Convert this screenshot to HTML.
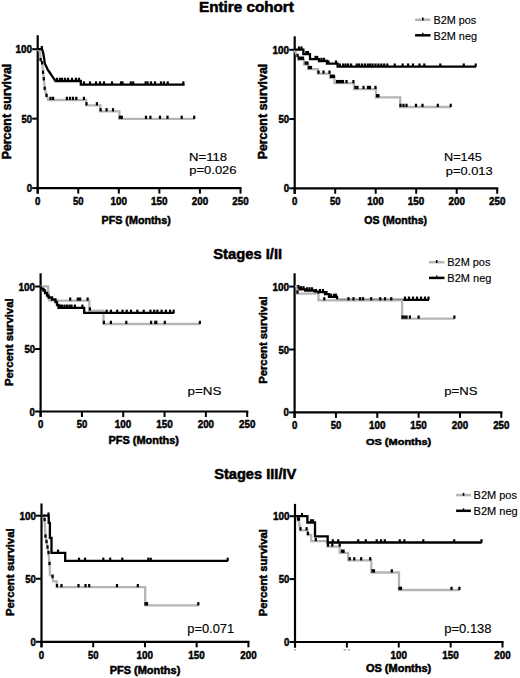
<!DOCTYPE html>
<html><head><meta charset="utf-8"><style>
html,body{margin:0;padding:0;background:#fff;}
svg{display:block;}
text{font-family:"Liberation Sans",sans-serif;fill:#000;}
</style></head><body>
<svg width="520" height="678" viewBox="0 0 520 678">
<rect width="520" height="678" fill="#fff"/>
<text x="199.08" y="11.8" font-size="13.94" font-weight="bold" textLength="94.7" lengthAdjust="spacingAndGlyphs" stroke="#000" stroke-width="0.5">Entire cohort</text>
<text x="213.27" y="258.6" font-size="14.77" font-weight="bold" textLength="68.91" lengthAdjust="spacingAndGlyphs" stroke="#000" stroke-width="0.5">Stages I/II</text>
<text x="214.18" y="478.8" font-size="13.8" font-weight="bold" textLength="82.12" lengthAdjust="spacingAndGlyphs" stroke="#000" stroke-width="0.5">Stages III/IV</text>
<line x1="37.7" y1="35.2" x2="37.7" y2="193.6" stroke="#000" stroke-width="2.2"/>
<line x1="36.6" y1="188.1" x2="241.6" y2="188.1" stroke="#000" stroke-width="2.2"/>
<line x1="32.2" y1="188.1" x2="37.7" y2="188.1" stroke="#000" stroke-width="2.0"/>
<text x="26.72" y="192.1" font-size="11.17" font-weight="bold" textLength="5.38" lengthAdjust="spacingAndGlyphs" stroke="#000" stroke-width="0.5">0</text>
<line x1="32.2" y1="118.65" x2="37.7" y2="118.65" stroke="#000" stroke-width="2.0"/>
<text x="21.51" y="122.65" font-size="11.17" font-weight="bold" textLength="10.58" lengthAdjust="spacingAndGlyphs" stroke="#000" stroke-width="0.5">50</text>
<line x1="32.2" y1="49.20000000000002" x2="37.7" y2="49.20000000000002" stroke="#000" stroke-width="2.0"/>
<text x="15.58" y="53.2" font-size="11.17" font-weight="bold" textLength="16.53" lengthAdjust="spacingAndGlyphs" stroke="#000" stroke-width="0.5">100</text>
<line x1="37.7" y1="188.1" x2="37.7" y2="193.6" stroke="#000" stroke-width="2.0"/>
<text x="35.02" y="204.8" font-size="11.17" font-weight="bold" textLength="5.38" lengthAdjust="spacingAndGlyphs" stroke="#000" stroke-width="0.5">0</text>
<line x1="78.26" y1="188.1" x2="78.26" y2="193.6" stroke="#000" stroke-width="2.0"/>
<text x="73.02" y="204.8" font-size="11.17" font-weight="bold" textLength="10.58" lengthAdjust="spacingAndGlyphs" stroke="#000" stroke-width="0.5">50</text>
<line x1="118.82000000000001" y1="188.1" x2="118.82000000000001" y2="193.6" stroke="#000" stroke-width="2.0"/>
<text x="110.45" y="204.8" font-size="11.17" font-weight="bold" textLength="16.53" lengthAdjust="spacingAndGlyphs" stroke="#000" stroke-width="0.5">100</text>
<line x1="159.38000000000002" y1="188.1" x2="159.38000000000002" y2="193.6" stroke="#000" stroke-width="2.0"/>
<text x="151.01" y="204.8" font-size="11.17" font-weight="bold" textLength="16.53" lengthAdjust="spacingAndGlyphs" stroke="#000" stroke-width="0.5">150</text>
<line x1="199.94" y1="188.1" x2="199.94" y2="193.6" stroke="#000" stroke-width="2.0"/>
<text x="191.8" y="204.8" font-size="11.17" font-weight="bold" textLength="16.34" lengthAdjust="spacingAndGlyphs" stroke="#000" stroke-width="0.5">200</text>
<line x1="240.5" y1="188.1" x2="240.5" y2="193.6" stroke="#000" stroke-width="2.0"/>
<text x="232.36" y="204.8" font-size="11.17" font-weight="bold" textLength="16.34" lengthAdjust="spacingAndGlyphs" stroke="#000" stroke-width="0.5">250</text>
<text x="10.6" y="159.33" font-size="12.42" font-weight="bold" textLength="95.6" lengthAdjust="spacingAndGlyphs" transform="rotate(-90 10.6 159.33)" stroke="#000" stroke-width="0.5">Percent survival</text>
<text x="101.48" y="223.7" font-size="10.76" font-weight="bold" textLength="69.25" lengthAdjust="spacingAndGlyphs" stroke="#000" stroke-width="0.5">PFS (Months)</text>
<line x1="294.7" y1="36.3" x2="294.7" y2="193.8" stroke="#000" stroke-width="2.2"/>
<line x1="293.59999999999997" y1="188.3" x2="498.3" y2="188.3" stroke="#000" stroke-width="2.2"/>
<line x1="289.2" y1="188.3" x2="294.7" y2="188.3" stroke="#000" stroke-width="2.0"/>
<text x="283.72" y="192.3" font-size="11.17" font-weight="bold" textLength="5.38" lengthAdjust="spacingAndGlyphs" stroke="#000" stroke-width="0.5">0</text>
<line x1="289.2" y1="119.05000000000001" x2="294.7" y2="119.05000000000001" stroke="#000" stroke-width="2.0"/>
<text x="278.51" y="123.05" font-size="11.17" font-weight="bold" textLength="10.58" lengthAdjust="spacingAndGlyphs" stroke="#000" stroke-width="0.5">50</text>
<line x1="289.2" y1="49.80000000000001" x2="294.7" y2="49.80000000000001" stroke="#000" stroke-width="2.0"/>
<text x="272.58" y="53.8" font-size="11.17" font-weight="bold" textLength="16.53" lengthAdjust="spacingAndGlyphs" stroke="#000" stroke-width="0.5">100</text>
<line x1="294.7" y1="188.3" x2="294.7" y2="193.8" stroke="#000" stroke-width="2.0"/>
<text x="292.02" y="205.0" font-size="11.17" font-weight="bold" textLength="5.38" lengthAdjust="spacingAndGlyphs" stroke="#000" stroke-width="0.5">0</text>
<line x1="335.2" y1="188.3" x2="335.2" y2="193.8" stroke="#000" stroke-width="2.0"/>
<text x="329.96" y="205.0" font-size="11.17" font-weight="bold" textLength="10.58" lengthAdjust="spacingAndGlyphs" stroke="#000" stroke-width="0.5">50</text>
<line x1="375.7" y1="188.3" x2="375.7" y2="193.8" stroke="#000" stroke-width="2.0"/>
<text x="367.33" y="205.0" font-size="11.17" font-weight="bold" textLength="16.53" lengthAdjust="spacingAndGlyphs" stroke="#000" stroke-width="0.5">100</text>
<line x1="416.2" y1="188.3" x2="416.2" y2="193.8" stroke="#000" stroke-width="2.0"/>
<text x="407.83" y="205.0" font-size="11.17" font-weight="bold" textLength="16.53" lengthAdjust="spacingAndGlyphs" stroke="#000" stroke-width="0.5">150</text>
<line x1="456.7" y1="188.3" x2="456.7" y2="193.8" stroke="#000" stroke-width="2.0"/>
<text x="448.56" y="205.0" font-size="11.17" font-weight="bold" textLength="16.34" lengthAdjust="spacingAndGlyphs" stroke="#000" stroke-width="0.5">200</text>
<line x1="497.2" y1="188.3" x2="497.2" y2="193.8" stroke="#000" stroke-width="2.0"/>
<text x="489.06" y="205.0" font-size="11.17" font-weight="bold" textLength="16.34" lengthAdjust="spacingAndGlyphs" stroke="#000" stroke-width="0.5">250</text>
<text x="266.7" y="159.33" font-size="12.56" font-weight="bold" textLength="95.6" lengthAdjust="spacingAndGlyphs" transform="rotate(-90 266.7 159.33)" stroke="#000" stroke-width="0.5">Percent survival</text>
<text x="364.37" y="224.2" font-size="11.45" font-weight="bold" textLength="62.76" lengthAdjust="spacingAndGlyphs" stroke="#000" stroke-width="0.5">OS (Months)</text>
<line x1="40.6" y1="273.3" x2="40.6" y2="417.0" stroke="#000" stroke-width="2.2"/>
<line x1="39.5" y1="411.5" x2="248.29999999999998" y2="411.5" stroke="#000" stroke-width="2.2"/>
<line x1="35.1" y1="411.5" x2="40.6" y2="411.5" stroke="#000" stroke-width="2.0"/>
<text x="29.62" y="415.5" font-size="11.17" font-weight="bold" textLength="5.38" lengthAdjust="spacingAndGlyphs" stroke="#000" stroke-width="0.5">0</text>
<line x1="35.1" y1="349.0" x2="40.6" y2="349.0" stroke="#000" stroke-width="2.0"/>
<text x="24.41" y="353.0" font-size="11.17" font-weight="bold" textLength="10.58" lengthAdjust="spacingAndGlyphs" stroke="#000" stroke-width="0.5">50</text>
<line x1="35.1" y1="286.5" x2="40.6" y2="286.5" stroke="#000" stroke-width="2.0"/>
<text x="18.48" y="290.5" font-size="11.17" font-weight="bold" textLength="16.53" lengthAdjust="spacingAndGlyphs" stroke="#000" stroke-width="0.5">100</text>
<line x1="40.6" y1="411.5" x2="40.6" y2="417.0" stroke="#000" stroke-width="2.0"/>
<text x="37.92" y="428.2" font-size="11.17" font-weight="bold" textLength="5.38" lengthAdjust="spacingAndGlyphs" stroke="#000" stroke-width="0.5">0</text>
<line x1="81.92" y1="411.5" x2="81.92" y2="417.0" stroke="#000" stroke-width="2.0"/>
<text x="76.68" y="428.2" font-size="11.17" font-weight="bold" textLength="10.58" lengthAdjust="spacingAndGlyphs" stroke="#000" stroke-width="0.5">50</text>
<line x1="123.24000000000001" y1="411.5" x2="123.24000000000001" y2="417.0" stroke="#000" stroke-width="2.0"/>
<text x="114.87" y="428.2" font-size="11.17" font-weight="bold" textLength="16.53" lengthAdjust="spacingAndGlyphs" stroke="#000" stroke-width="0.5">100</text>
<line x1="164.56" y1="411.5" x2="164.56" y2="417.0" stroke="#000" stroke-width="2.0"/>
<text x="156.19" y="428.2" font-size="11.17" font-weight="bold" textLength="16.53" lengthAdjust="spacingAndGlyphs" stroke="#000" stroke-width="0.5">150</text>
<line x1="205.88" y1="411.5" x2="205.88" y2="417.0" stroke="#000" stroke-width="2.0"/>
<text x="197.74" y="428.2" font-size="11.17" font-weight="bold" textLength="16.34" lengthAdjust="spacingAndGlyphs" stroke="#000" stroke-width="0.5">200</text>
<line x1="247.2" y1="411.5" x2="247.2" y2="417.0" stroke="#000" stroke-width="2.0"/>
<text x="239.06" y="428.2" font-size="11.17" font-weight="bold" textLength="16.34" lengthAdjust="spacingAndGlyphs" stroke="#000" stroke-width="0.5">250</text>
<text x="12.7" y="386.06" font-size="11.59" font-weight="bold" textLength="87.71" lengthAdjust="spacingAndGlyphs" transform="rotate(-90 12.7 386.06)" stroke="#000" stroke-width="0.5">Percent survival</text>
<text x="108.47" y="443.7" font-size="10.49" font-weight="bold" textLength="70.48" lengthAdjust="spacingAndGlyphs" stroke="#000" stroke-width="0.5">PFS (Months)</text>
<line x1="294.6" y1="273.3" x2="294.6" y2="417.9" stroke="#000" stroke-width="2.2"/>
<line x1="293.5" y1="412.4" x2="502.40000000000003" y2="412.4" stroke="#000" stroke-width="2.2"/>
<line x1="289.1" y1="412.4" x2="294.6" y2="412.4" stroke="#000" stroke-width="2.0"/>
<text x="283.62" y="416.4" font-size="11.17" font-weight="bold" textLength="5.38" lengthAdjust="spacingAndGlyphs" stroke="#000" stroke-width="0.5">0</text>
<line x1="289.1" y1="349.5" x2="294.6" y2="349.5" stroke="#000" stroke-width="2.0"/>
<text x="278.41" y="353.5" font-size="11.17" font-weight="bold" textLength="10.58" lengthAdjust="spacingAndGlyphs" stroke="#000" stroke-width="0.5">50</text>
<line x1="289.1" y1="286.6" x2="294.6" y2="286.6" stroke="#000" stroke-width="2.0"/>
<text x="272.48" y="290.6" font-size="11.17" font-weight="bold" textLength="16.53" lengthAdjust="spacingAndGlyphs" stroke="#000" stroke-width="0.5">100</text>
<line x1="294.6" y1="412.4" x2="294.6" y2="417.9" stroke="#000" stroke-width="2.0"/>
<text x="291.92" y="429.1" font-size="11.17" font-weight="bold" textLength="5.38" lengthAdjust="spacingAndGlyphs" stroke="#000" stroke-width="0.5">0</text>
<line x1="335.94" y1="412.4" x2="335.94" y2="417.9" stroke="#000" stroke-width="2.0"/>
<text x="330.7" y="429.1" font-size="11.17" font-weight="bold" textLength="10.58" lengthAdjust="spacingAndGlyphs" stroke="#000" stroke-width="0.5">50</text>
<line x1="377.28000000000003" y1="412.4" x2="377.28000000000003" y2="417.9" stroke="#000" stroke-width="2.0"/>
<text x="368.91" y="429.1" font-size="11.17" font-weight="bold" textLength="16.53" lengthAdjust="spacingAndGlyphs" stroke="#000" stroke-width="0.5">100</text>
<line x1="418.62" y1="412.4" x2="418.62" y2="417.9" stroke="#000" stroke-width="2.0"/>
<text x="410.25" y="429.1" font-size="11.17" font-weight="bold" textLength="16.53" lengthAdjust="spacingAndGlyphs" stroke="#000" stroke-width="0.5">150</text>
<line x1="459.96000000000004" y1="412.4" x2="459.96000000000004" y2="417.9" stroke="#000" stroke-width="2.0"/>
<text x="451.82" y="429.1" font-size="11.17" font-weight="bold" textLength="16.34" lengthAdjust="spacingAndGlyphs" stroke="#000" stroke-width="0.5">200</text>
<line x1="501.3" y1="412.4" x2="501.3" y2="417.9" stroke="#000" stroke-width="2.0"/>
<text x="493.16" y="429.1" font-size="11.17" font-weight="bold" textLength="16.34" lengthAdjust="spacingAndGlyphs" stroke="#000" stroke-width="0.5">250</text>
<text x="267.2" y="383.86" font-size="11.32" font-weight="bold" textLength="87.46" lengthAdjust="spacingAndGlyphs" transform="rotate(-90 267.2 383.86)" stroke="#000" stroke-width="0.5">Percent survival</text>
<text x="365.95" y="445.1" font-size="9.66" font-weight="bold" textLength="65.3" lengthAdjust="spacingAndGlyphs" stroke="#000" stroke-width="0.5">OS (Months)</text>
<line x1="41.5" y1="503.5" x2="41.5" y2="647.3" stroke="#000" stroke-width="2.2"/>
<line x1="40.4" y1="641.8" x2="249.5" y2="641.8" stroke="#000" stroke-width="2.2"/>
<line x1="36.0" y1="641.8" x2="41.5" y2="641.8" stroke="#000" stroke-width="2.0"/>
<text x="30.52" y="645.8" font-size="11.17" font-weight="bold" textLength="5.38" lengthAdjust="spacingAndGlyphs" stroke="#000" stroke-width="0.5">0</text>
<line x1="36.0" y1="578.75" x2="41.5" y2="578.75" stroke="#000" stroke-width="2.0"/>
<text x="25.31" y="582.75" font-size="11.17" font-weight="bold" textLength="10.58" lengthAdjust="spacingAndGlyphs" stroke="#000" stroke-width="0.5">50</text>
<line x1="36.0" y1="515.7" x2="41.5" y2="515.7" stroke="#000" stroke-width="2.0"/>
<text x="19.38" y="519.7" font-size="11.17" font-weight="bold" textLength="16.53" lengthAdjust="spacingAndGlyphs" stroke="#000" stroke-width="0.5">100</text>
<line x1="41.5" y1="641.8" x2="41.5" y2="647.3" stroke="#000" stroke-width="2.0"/>
<text x="38.82" y="658.5" font-size="11.17" font-weight="bold" textLength="5.38" lengthAdjust="spacingAndGlyphs" stroke="#000" stroke-width="0.5">0</text>
<line x1="93.225" y1="641.8" x2="93.225" y2="647.3" stroke="#000" stroke-width="2.0"/>
<text x="87.98" y="658.5" font-size="11.17" font-weight="bold" textLength="10.58" lengthAdjust="spacingAndGlyphs" stroke="#000" stroke-width="0.5">50</text>
<line x1="144.95" y1="641.8" x2="144.95" y2="647.3" stroke="#000" stroke-width="2.0"/>
<text x="136.58" y="658.5" font-size="11.17" font-weight="bold" textLength="16.53" lengthAdjust="spacingAndGlyphs" stroke="#000" stroke-width="0.5">100</text>
<line x1="196.675" y1="641.8" x2="196.675" y2="647.3" stroke="#000" stroke-width="2.0"/>
<text x="188.3" y="658.5" font-size="11.17" font-weight="bold" textLength="16.53" lengthAdjust="spacingAndGlyphs" stroke="#000" stroke-width="0.5">150</text>
<line x1="248.4" y1="641.8" x2="248.4" y2="647.3" stroke="#000" stroke-width="2.0"/>
<text x="240.26" y="658.5" font-size="11.17" font-weight="bold" textLength="16.34" lengthAdjust="spacingAndGlyphs" stroke="#000" stroke-width="0.5">200</text>
<text x="13.6" y="616.06" font-size="11.32" font-weight="bold" textLength="87.71" lengthAdjust="spacingAndGlyphs" transform="rotate(-90 13.6 616.06)" stroke="#000" stroke-width="0.5">Percent survival</text>
<text x="109.67" y="673.8" font-size="10.07" font-weight="bold" textLength="70.68" lengthAdjust="spacingAndGlyphs" stroke="#000" stroke-width="0.5">PFS (Months)</text>
<line x1="295" y1="503.9" x2="295" y2="647.5" stroke="#000" stroke-width="2.2"/>
<line x1="293.9" y1="642.0" x2="503.6" y2="642.0" stroke="#000" stroke-width="2.2"/>
<line x1="289.5" y1="642.0" x2="295" y2="642.0" stroke="#000" stroke-width="2.0"/>
<text x="284.02" y="646.0" font-size="11.17" font-weight="bold" textLength="5.38" lengthAdjust="spacingAndGlyphs" stroke="#000" stroke-width="0.5">0</text>
<line x1="289.5" y1="579.1" x2="295" y2="579.1" stroke="#000" stroke-width="2.0"/>
<text x="278.81" y="583.1" font-size="11.17" font-weight="bold" textLength="10.58" lengthAdjust="spacingAndGlyphs" stroke="#000" stroke-width="0.5">50</text>
<line x1="289.5" y1="516.2" x2="295" y2="516.2" stroke="#000" stroke-width="2.0"/>
<text x="272.88" y="520.2" font-size="11.17" font-weight="bold" textLength="16.53" lengthAdjust="spacingAndGlyphs" stroke="#000" stroke-width="0.5">100</text>
<line x1="295.0" y1="642.0" x2="295.0" y2="647.5" stroke="#000" stroke-width="2.0"/>
<line x1="346.875" y1="642.0" x2="346.875" y2="647.5" stroke="#000" stroke-width="2.0"/>
<line x1="398.75" y1="642.0" x2="398.75" y2="647.5" stroke="#000" stroke-width="2.0"/>
<text x="390.38" y="658.7" font-size="11.17" font-weight="bold" textLength="16.53" lengthAdjust="spacingAndGlyphs" stroke="#000" stroke-width="0.5">100</text>
<line x1="450.625" y1="642.0" x2="450.625" y2="647.5" stroke="#000" stroke-width="2.0"/>
<text x="442.25" y="658.7" font-size="11.17" font-weight="bold" textLength="16.53" lengthAdjust="spacingAndGlyphs" stroke="#000" stroke-width="0.5">150</text>
<line x1="502.5" y1="642.0" x2="502.5" y2="647.5" stroke="#000" stroke-width="2.0"/>
<text x="494.36" y="658.7" font-size="11.17" font-weight="bold" textLength="16.34" lengthAdjust="spacingAndGlyphs" stroke="#000" stroke-width="0.5">200</text>
<text x="267.0" y="616.25" font-size="10.76" font-weight="bold" textLength="87.05" lengthAdjust="spacingAndGlyphs" transform="rotate(-90 267.0 616.25)" stroke="#000" stroke-width="0.5">Percent survival</text>
<text x="365.95" y="672.1" font-size="10.07" font-weight="bold" textLength="65.3" lengthAdjust="spacingAndGlyphs" stroke="#000" stroke-width="0.5">OS (Months)</text>
<text x="189.05" y="160.8" font-size="11.03" font-weight="normal" textLength="38.0" lengthAdjust="spacingAndGlyphs" stroke="#000" stroke-width="0.15">N=118</text>
<text x="189.26" y="174.3" font-size="10.03" font-weight="normal" textLength="47.31" lengthAdjust="spacingAndGlyphs" stroke="#000" stroke-width="0.15">p=0.026</text>
<text x="444.06" y="160.8" font-size="11.19" font-weight="normal" textLength="37.67" lengthAdjust="spacingAndGlyphs" stroke="#000" stroke-width="0.15">N=145</text>
<text x="445.77" y="175.2" font-size="10.45" font-weight="normal" textLength="46.9" lengthAdjust="spacingAndGlyphs" stroke="#000" stroke-width="0.15">p=0.013</text>
<text x="187.43" y="395.0" font-size="11.74" font-weight="normal" textLength="33.98" lengthAdjust="spacingAndGlyphs" stroke="#000" stroke-width="0.15">p=NS</text>
<text x="444.25" y="394.6" font-size="11.74" font-weight="normal" textLength="33.25" lengthAdjust="spacingAndGlyphs" stroke="#000" stroke-width="0.15">p=NS</text>
<text x="187.27" y="632.8" font-size="12.6" font-weight="normal" textLength="46.86" lengthAdjust="spacingAndGlyphs" stroke="#000" stroke-width="0.15">p=0.071</text>
<text x="444.26" y="632.8" font-size="12.6" font-weight="normal" textLength="47.3" lengthAdjust="spacingAndGlyphs" stroke="#000" stroke-width="0.15">p=0.138</text>
<line x1="415.1" y1="19.7" x2="430.5" y2="19.7" stroke="#b5b5b5" stroke-width="2.5"/>
<rect x="422.00" y="17.5" width="1.6" height="3" fill="#000"/>
<line x1="415.1" y1="35.3" x2="430.5" y2="35.3" stroke="#000" stroke-width="2.5"/>
<line x1="422.8" y1="32.8" x2="422.8" y2="35.3" stroke="#000" stroke-width="1.4"/>
<text x="433.41" y="23.7" font-size="11.17" font-weight="normal" textLength="42.88" lengthAdjust="spacingAndGlyphs" stroke="#000" stroke-width="0.15">B2M pos</text>
<text x="433.41" y="39.9" font-size="11.31" font-weight="normal" textLength="43.6" lengthAdjust="spacingAndGlyphs" stroke="#000" stroke-width="0.15">B2M neg</text>
<line x1="429" y1="262.2" x2="444.5" y2="262.2" stroke="#b5b5b5" stroke-width="2.5"/>
<rect x="435.95" y="260.0" width="1.6" height="3" fill="#000"/>
<line x1="429" y1="277.9" x2="444.5" y2="277.9" stroke="#000" stroke-width="2.5"/>
<line x1="436.75" y1="275.4" x2="436.75" y2="277.9" stroke="#000" stroke-width="1.4"/>
<text x="447.3" y="266.2" font-size="11.03" font-weight="normal" textLength="43.09" lengthAdjust="spacingAndGlyphs" stroke="#000" stroke-width="0.15">B2M pos</text>
<text x="447.3" y="282.3" font-size="11.46" font-weight="normal" textLength="44.11" lengthAdjust="spacingAndGlyphs" stroke="#000" stroke-width="0.15">B2M neg</text>
<line x1="456.1" y1="495.1" x2="470.9" y2="495.1" stroke="#b5b5b5" stroke-width="2.5"/>
<rect x="462.70" y="492.90000000000003" width="1.6" height="3" fill="#000"/>
<line x1="456.1" y1="510.8" x2="470.9" y2="510.8" stroke="#000" stroke-width="2.5"/>
<line x1="463.5" y1="508.3" x2="463.5" y2="510.8" stroke="#000" stroke-width="1.4"/>
<text x="473.6" y="499.1" font-size="11.17" font-weight="normal" textLength="43.4" lengthAdjust="spacingAndGlyphs" stroke="#000" stroke-width="0.15">B2M pos</text>
<text x="473.6" y="515.3" font-size="10.88" font-weight="normal" textLength="44.11" lengthAdjust="spacingAndGlyphs" stroke="#000" stroke-width="0.15">B2M neg</text>
<path d="M37.7,49.2 L40,52 L40.6,59.6 L42.1,62.9 L43,70 L43.8,79 L44.7,88.4 L46.5,95.4 L48.3,100 L86.2,100 L86.2,105.4 L100.3,105.4 L100.3,111.4 L119.4,111.4 L119.4,118.9 L194.6,118.9 L194.6,118.9" fill="none" stroke="#b5b5b5" stroke-width="2.3" stroke-linejoin="miter" stroke-miterlimit="10"/>
<path d="M37.7,49.2 L42,49.2 L42,49.2 L43,52 L44,57.8 L44.8,63.4 L46.3,66.6 L47.7,69.6 L49.7,72.5 L51.8,75.7 L53.7,78.4 L55.5,81.0 L80.8,81.0 L80.8,84.6 L184.6,84.6 L184.6,84.6" fill="none" stroke="#000" stroke-width="2.3" stroke-linejoin="miter" stroke-miterlimit="10"/>
<path d="M294.7,49.7 L296,53.5 L297.6,56 L298.2,59.8 L304,59.8 L304,64.7 L308,64.7 L308,69.1 L317.8,69.1 L317.8,73.7 L330,73.7 L330,77.9 L334.5,77.9 L334.5,83.2 L354,83.2 L354,89.05 L376,89.05 L376,97.35 L400.2,97.35 L400.2,107 L451,107 L451,107" fill="none" stroke="#b5b5b5" stroke-width="2.3" stroke-linejoin="miter" stroke-miterlimit="10"/>
<path d="M294.7,49.7 L303.4,49.7 L303.4,54.2 L310,54.2 L310,59.1 L319,59.1 L319,61 L327,61 L327,63.7 L337.6,63.7 L337.6,66.7 L476,66.7 L476,66.7" fill="none" stroke="#000" stroke-width="2.3" stroke-linejoin="miter" stroke-miterlimit="10"/>
<path d="M40.5,286.3 L48.2,286.3 L48.2,290 L48.8,295 L49.5,300.7 L89.3,300.7 L89.3,310.6 L103.5,310.6 L103.5,324 L200.1,324 L200.1,324" fill="none" stroke="#b5b5b5" stroke-width="2.3" stroke-linejoin="miter" stroke-miterlimit="10"/>
<path d="M40.5,286.3 L42,289 L43.5,289 L43.5,290.5 L45,290.5 L45,293 L47,293 L47,295.5 L48.5,295.5 L48.5,297.5 L52,297.5 L52,299.5 L55.5,299.5 L55.5,302 L57,302 L57,305 L58.5,305 L58.5,307.8 L84.2,307.8 L84.2,312.9 L174.3,312.9 L174.3,312.9" fill="none" stroke="#000" stroke-width="2.3" stroke-linejoin="miter" stroke-miterlimit="10"/>
<path d="M294.9,286.3 L298,286.3 L298,288.2 L299.5,288.2 L299.5,289.4 L305.3,289.4 L305.3,290.5 L314.5,290.5 L314.5,292.2 L325,292.2 L325,294.2 L329,294.2 L329,296.9 L337,296.9 L337,299.8 L429,299.8 L429,299.8" fill="none" stroke="#000" stroke-width="2.3" stroke-linejoin="miter" stroke-miterlimit="10"/>
<path d="M294.9,286.3 L297,286.3 L297,293.6 L318.5,293.6 L318.5,300.4 L402.1,300.4 L402.1,318.7 L454.6,318.7 L454.6,318.7" fill="none" stroke="#b5b5b5" stroke-width="2.3" stroke-linejoin="miter" stroke-miterlimit="10"/>
<path d="M41.5,515.7 L43.6,515.7 L43.6,519.5 L44.6,519.5 L45.5,536 L46.5,541.5 L47.5,547 L48.5,552.5 L49.5,563.5 L50,575.2 L53,575.2 L53,581.3 L56.8,581.3 L56.8,587.2 L145.2,587.2 L145.2,605.4 L198.5,605.4 L198.5,605.4" fill="none" stroke="#b5b5b5" stroke-width="2.3" stroke-linejoin="miter" stroke-miterlimit="10"/>
<path d="M41.5,515.7 L48.7,515.7 L48.7,522.8 L49.9,522.8 L49.9,537.9 L51.5,537.9 L51.5,552.8 L65.2,552.8 L65.2,560.9 L227.9,560.9 L227.9,560.9" fill="none" stroke="#000" stroke-width="2.3" stroke-linejoin="miter" stroke-miterlimit="10"/>
<path d="M295,516.2 L297.8,516.2 L297.8,520.5 L299,520.5 L299,525.5 L300,525.5 L300,530.4 L307.4,530.4 L307.4,535 L311.2,535 L311.2,541.2 L327.4,541.2 L327.4,546.6 L339.7,546.6 L339.7,552.8 L348.2,552.8 L348.2,560.4 L371.3,560.4 L371.3,572.5 L399,572.5 L399,590 L459.6,590 L459.6,590" fill="none" stroke="#b5b5b5" stroke-width="2.3" stroke-linejoin="miter" stroke-miterlimit="10"/>
<path d="M295,516.2 L307.4,516.2 L307.4,522.5 L315,522.5 L315,536.4 L327.7,536.4 L327.7,542.5 L481.7,542.5 L481.7,542.5" fill="none" stroke="#000" stroke-width="2.3" stroke-linejoin="miter" stroke-miterlimit="10"/>
<rect x="49.40" y="96.75" width="2.2" height="3.3" fill="#000"/>
<rect x="52.00" y="96.75" width="2.2" height="3.3" fill="#000"/>
<rect x="65.80" y="96.75" width="2.2" height="3.3" fill="#000"/>
<rect x="68.90" y="96.75" width="2.2" height="3.3" fill="#000"/>
<rect x="71.90" y="96.75" width="2.2" height="3.3" fill="#000"/>
<rect x="75.20" y="96.75" width="2.2" height="3.3" fill="#000"/>
<rect x="82.80" y="96.75" width="2.2" height="3.3" fill="#000"/>
<rect x="85.40" y="102.15" width="2.2" height="3.3" fill="#000"/>
<rect x="95.80" y="102.15" width="2.2" height="3.3" fill="#000"/>
<rect x="99.50" y="108.15" width="2.2" height="3.3" fill="#000"/>
<rect x="105.50" y="108.15" width="2.2" height="3.3" fill="#000"/>
<rect x="111.90" y="108.15" width="2.2" height="3.3" fill="#000"/>
<rect x="118.70" y="115.65" width="2.2" height="3.3" fill="#000"/>
<rect x="120.70" y="115.65" width="2.2" height="3.3" fill="#000"/>
<rect x="144.90" y="115.65" width="2.2" height="3.3" fill="#000"/>
<rect x="149.30" y="115.65" width="2.2" height="3.3" fill="#000"/>
<rect x="158.90" y="115.65" width="2.2" height="3.3" fill="#000"/>
<rect x="166.40" y="115.65" width="2.2" height="3.3" fill="#000"/>
<rect x="180.60" y="115.65" width="2.2" height="3.3" fill="#000"/>
<rect x="193.10" y="115.65" width="2.2" height="3.3" fill="#000"/>
<rect x="39.50" y="57.95" width="2.2" height="3.3" fill="#000"/>
<rect x="41.00" y="61.15" width="2.2" height="3.3" fill="#000"/>
<rect x="41.90" y="70.65" width="2.2" height="3.3" fill="#000"/>
<rect x="42.70" y="77.15" width="2.2" height="3.3" fill="#000"/>
<rect x="43.60" y="86.65" width="2.2" height="3.3" fill="#000"/>
<rect x="45.40" y="93.65" width="2.2" height="3.3" fill="#000"/>
<rect x="40.70" y="45.95" width="2.2" height="3.3" fill="#000"/>
<rect x="55.90" y="77.75" width="2.2" height="3.3" fill="#000"/>
<rect x="58.90" y="77.75" width="2.2" height="3.3" fill="#000"/>
<rect x="60.90" y="77.75" width="2.2" height="3.3" fill="#000"/>
<rect x="63.90" y="77.75" width="2.2" height="3.3" fill="#000"/>
<rect x="66.90" y="77.75" width="2.2" height="3.3" fill="#000"/>
<rect x="70.90" y="77.75" width="2.2" height="3.3" fill="#000"/>
<rect x="74.90" y="77.75" width="2.2" height="3.3" fill="#000"/>
<rect x="77.90" y="77.75" width="2.2" height="3.3" fill="#000"/>
<rect x="82.90" y="81.35" width="2.2" height="3.3" fill="#000"/>
<rect x="88.90" y="81.35" width="2.2" height="3.3" fill="#000"/>
<rect x="94.90" y="81.35" width="2.2" height="3.3" fill="#000"/>
<rect x="98.90" y="81.35" width="2.2" height="3.3" fill="#000"/>
<rect x="102.90" y="81.35" width="2.2" height="3.3" fill="#000"/>
<rect x="110.90" y="81.35" width="2.2" height="3.3" fill="#000"/>
<rect x="119.90" y="81.35" width="2.2" height="3.3" fill="#000"/>
<rect x="121.40" y="81.35" width="2.2" height="3.3" fill="#000"/>
<rect x="129.70" y="81.35" width="2.2" height="3.3" fill="#000"/>
<rect x="132.10" y="81.35" width="2.2" height="3.3" fill="#000"/>
<rect x="144.50" y="81.35" width="2.2" height="3.3" fill="#000"/>
<rect x="146.40" y="81.35" width="2.2" height="3.3" fill="#000"/>
<rect x="149.90" y="81.35" width="2.2" height="3.3" fill="#000"/>
<rect x="153.90" y="81.35" width="2.2" height="3.3" fill="#000"/>
<rect x="159.90" y="81.35" width="2.2" height="3.3" fill="#000"/>
<rect x="162.90" y="81.35" width="2.2" height="3.3" fill="#000"/>
<rect x="166.60" y="81.35" width="2.2" height="3.3" fill="#000"/>
<rect x="182.20" y="81.35" width="2.2" height="3.3" fill="#000"/>
<rect x="297.90" y="56.55" width="2.2" height="3.3" fill="#000"/>
<rect x="299.90" y="56.55" width="2.2" height="3.3" fill="#000"/>
<rect x="301.90" y="56.55" width="2.2" height="3.3" fill="#000"/>
<rect x="304.60" y="61.45" width="2.2" height="3.3" fill="#000"/>
<rect x="306.40" y="61.45" width="2.2" height="3.3" fill="#000"/>
<rect x="307.90" y="65.85" width="2.2" height="3.3" fill="#000"/>
<rect x="309.90" y="65.85" width="2.2" height="3.3" fill="#000"/>
<rect x="317.40" y="70.45" width="2.2" height="3.3" fill="#000"/>
<rect x="322.40" y="70.45" width="2.2" height="3.3" fill="#000"/>
<rect x="328.40" y="70.45" width="2.2" height="3.3" fill="#000"/>
<rect x="329.90" y="74.65" width="2.2" height="3.3" fill="#000"/>
<rect x="331.40" y="74.65" width="2.2" height="3.3" fill="#000"/>
<rect x="332.90" y="74.65" width="2.2" height="3.3" fill="#000"/>
<rect x="335.90" y="79.95" width="2.2" height="3.3" fill="#000"/>
<rect x="337.90" y="79.95" width="2.2" height="3.3" fill="#000"/>
<rect x="339.90" y="79.95" width="2.2" height="3.3" fill="#000"/>
<rect x="341.90" y="79.95" width="2.2" height="3.3" fill="#000"/>
<rect x="345.40" y="79.95" width="2.2" height="3.3" fill="#000"/>
<rect x="352.30" y="79.95" width="2.2" height="3.3" fill="#000"/>
<rect x="354.40" y="85.80" width="2.2" height="3.3" fill="#000"/>
<rect x="356.40" y="85.80" width="2.2" height="3.3" fill="#000"/>
<rect x="362.40" y="85.80" width="2.2" height="3.3" fill="#000"/>
<rect x="366.90" y="85.80" width="2.2" height="3.3" fill="#000"/>
<rect x="368.90" y="85.80" width="2.2" height="3.3" fill="#000"/>
<rect x="374.40" y="85.80" width="2.2" height="3.3" fill="#000"/>
<rect x="375.90" y="94.10" width="2.2" height="3.3" fill="#000"/>
<rect x="377.40" y="94.10" width="2.2" height="3.3" fill="#000"/>
<rect x="399.40" y="103.75" width="2.2" height="3.3" fill="#000"/>
<rect x="402.40" y="103.75" width="2.2" height="3.3" fill="#000"/>
<rect x="405.40" y="103.75" width="2.2" height="3.3" fill="#000"/>
<rect x="414.90" y="103.75" width="2.2" height="3.3" fill="#000"/>
<rect x="421.40" y="103.75" width="2.2" height="3.3" fill="#000"/>
<rect x="436.70" y="103.75" width="2.2" height="3.3" fill="#000"/>
<rect x="449.60" y="103.75" width="2.2" height="3.3" fill="#000"/>
<rect x="296.50" y="53.85" width="2.2" height="3.3" fill="#000"/>
<rect x="297.90" y="46.45" width="2.2" height="3.3" fill="#000"/>
<rect x="300.40" y="46.45" width="2.2" height="3.3" fill="#000"/>
<rect x="305.20" y="50.95" width="2.2" height="3.3" fill="#000"/>
<rect x="306.90" y="50.95" width="2.2" height="3.3" fill="#000"/>
<rect x="314.40" y="55.85" width="2.2" height="3.3" fill="#000"/>
<rect x="316.10" y="55.85" width="2.2" height="3.3" fill="#000"/>
<rect x="320.40" y="57.75" width="2.2" height="3.3" fill="#000"/>
<rect x="322.90" y="57.75" width="2.2" height="3.3" fill="#000"/>
<rect x="327.40" y="60.45" width="2.2" height="3.3" fill="#000"/>
<rect x="334.90" y="60.45" width="2.2" height="3.3" fill="#000"/>
<rect x="338.70" y="63.45" width="2.2" height="3.3" fill="#000"/>
<rect x="342.10" y="63.45" width="2.2" height="3.3" fill="#000"/>
<rect x="344.50" y="63.45" width="2.2" height="3.3" fill="#000"/>
<rect x="347.00" y="63.45" width="2.2" height="3.3" fill="#000"/>
<rect x="350.00" y="63.45" width="2.2" height="3.3" fill="#000"/>
<rect x="355.60" y="63.45" width="2.2" height="3.3" fill="#000"/>
<rect x="358.00" y="63.45" width="2.2" height="3.3" fill="#000"/>
<rect x="360.90" y="63.45" width="2.2" height="3.3" fill="#000"/>
<rect x="363.80" y="63.45" width="2.2" height="3.3" fill="#000"/>
<rect x="366.70" y="63.45" width="2.2" height="3.3" fill="#000"/>
<rect x="369.10" y="63.45" width="2.2" height="3.3" fill="#000"/>
<rect x="371.50" y="63.45" width="2.2" height="3.3" fill="#000"/>
<rect x="374.40" y="63.45" width="2.2" height="3.3" fill="#000"/>
<rect x="377.30" y="63.45" width="2.2" height="3.3" fill="#000"/>
<rect x="380.20" y="63.45" width="2.2" height="3.3" fill="#000"/>
<rect x="383.10" y="63.45" width="2.2" height="3.3" fill="#000"/>
<rect x="386.20" y="63.45" width="2.2" height="3.3" fill="#000"/>
<rect x="393.60" y="63.45" width="2.2" height="3.3" fill="#000"/>
<rect x="401.50" y="63.45" width="2.2" height="3.3" fill="#000"/>
<rect x="407.00" y="63.45" width="2.2" height="3.3" fill="#000"/>
<rect x="411.90" y="63.45" width="2.2" height="3.3" fill="#000"/>
<rect x="418.40" y="63.45" width="2.2" height="3.3" fill="#000"/>
<rect x="423.20" y="63.45" width="2.2" height="3.3" fill="#000"/>
<rect x="439.20" y="63.45" width="2.2" height="3.3" fill="#000"/>
<rect x="462.65" y="63.45" width="2.2" height="3.3" fill="#000"/>
<rect x="474.60" y="63.45" width="2.2" height="3.3" fill="#000"/>
<rect x="69.10" y="297.45" width="2.2" height="3.3" fill="#000"/>
<rect x="76.70" y="297.45" width="2.2" height="3.3" fill="#000"/>
<rect x="79.00" y="297.45" width="2.2" height="3.3" fill="#000"/>
<rect x="86.50" y="297.45" width="2.2" height="3.3" fill="#000"/>
<rect x="88.80" y="307.35" width="2.2" height="3.3" fill="#000"/>
<rect x="102.80" y="320.75" width="2.2" height="3.3" fill="#000"/>
<rect x="109.80" y="320.75" width="2.2" height="3.3" fill="#000"/>
<rect x="125.20" y="320.75" width="2.2" height="3.3" fill="#000"/>
<rect x="150.00" y="320.75" width="2.2" height="3.3" fill="#000"/>
<rect x="154.20" y="320.75" width="2.2" height="3.3" fill="#000"/>
<rect x="155.20" y="320.75" width="2.2" height="3.3" fill="#000"/>
<rect x="163.70" y="320.75" width="2.2" height="3.3" fill="#000"/>
<rect x="198.80" y="320.75" width="2.2" height="3.3" fill="#000"/>
<rect x="58.90" y="304.55" width="2.2" height="3.3" fill="#000"/>
<rect x="60.90" y="304.55" width="2.2" height="3.3" fill="#000"/>
<rect x="63.40" y="304.55" width="2.2" height="3.3" fill="#000"/>
<rect x="65.90" y="304.55" width="2.2" height="3.3" fill="#000"/>
<rect x="68.40" y="304.55" width="2.2" height="3.3" fill="#000"/>
<rect x="70.40" y="304.55" width="2.2" height="3.3" fill="#000"/>
<rect x="73.80" y="304.55" width="2.2" height="3.3" fill="#000"/>
<rect x="81.30" y="304.55" width="2.2" height="3.3" fill="#000"/>
<rect x="105.50" y="309.65" width="2.2" height="3.3" fill="#000"/>
<rect x="109.80" y="309.65" width="2.2" height="3.3" fill="#000"/>
<rect x="116.10" y="309.65" width="2.2" height="3.3" fill="#000"/>
<rect x="121.40" y="309.65" width="2.2" height="3.3" fill="#000"/>
<rect x="125.60" y="309.65" width="2.2" height="3.3" fill="#000"/>
<rect x="129.90" y="309.65" width="2.2" height="3.3" fill="#000"/>
<rect x="136.20" y="309.65" width="2.2" height="3.3" fill="#000"/>
<rect x="142.60" y="309.65" width="2.2" height="3.3" fill="#000"/>
<rect x="149.30" y="309.65" width="2.2" height="3.3" fill="#000"/>
<rect x="153.10" y="309.65" width="2.2" height="3.3" fill="#000"/>
<rect x="156.30" y="309.65" width="2.2" height="3.3" fill="#000"/>
<rect x="160.50" y="309.65" width="2.2" height="3.3" fill="#000"/>
<rect x="164.80" y="309.65" width="2.2" height="3.3" fill="#000"/>
<rect x="169.00" y="309.65" width="2.2" height="3.3" fill="#000"/>
<rect x="172.60" y="309.65" width="2.2" height="3.3" fill="#000"/>
<rect x="297.40" y="284.95" width="2.2" height="3.3" fill="#000"/>
<rect x="299.90" y="286.15" width="2.2" height="3.3" fill="#000"/>
<rect x="302.40" y="286.15" width="2.2" height="3.3" fill="#000"/>
<rect x="305.90" y="287.25" width="2.2" height="3.3" fill="#000"/>
<rect x="308.40" y="287.25" width="2.2" height="3.3" fill="#000"/>
<rect x="310.90" y="287.25" width="2.2" height="3.3" fill="#000"/>
<rect x="314.90" y="288.95" width="2.2" height="3.3" fill="#000"/>
<rect x="318.90" y="288.95" width="2.2" height="3.3" fill="#000"/>
<rect x="321.90" y="288.95" width="2.2" height="3.3" fill="#000"/>
<rect x="325.40" y="290.95" width="2.2" height="3.3" fill="#000"/>
<rect x="329.90" y="293.65" width="2.2" height="3.3" fill="#000"/>
<rect x="332.90" y="293.65" width="2.2" height="3.3" fill="#000"/>
<rect x="334.90" y="293.65" width="2.2" height="3.3" fill="#000"/>
<rect x="403.90" y="296.55" width="2.2" height="3.3" fill="#000"/>
<rect x="407.90" y="296.55" width="2.2" height="3.3" fill="#000"/>
<rect x="411.90" y="296.55" width="2.2" height="3.3" fill="#000"/>
<rect x="415.90" y="296.55" width="2.2" height="3.3" fill="#000"/>
<rect x="419.90" y="296.55" width="2.2" height="3.3" fill="#000"/>
<rect x="423.90" y="296.55" width="2.2" height="3.3" fill="#000"/>
<rect x="427.40" y="296.55" width="2.2" height="3.3" fill="#000"/>
<rect x="296.40" y="290.35" width="2.2" height="3.3" fill="#000"/>
<rect x="317.40" y="290.35" width="2.2" height="3.3" fill="#000"/>
<rect x="323.20" y="297.15" width="2.2" height="3.3" fill="#000"/>
<rect x="347.40" y="297.15" width="2.2" height="3.3" fill="#000"/>
<rect x="352.40" y="297.15" width="2.2" height="3.3" fill="#000"/>
<rect x="358.90" y="297.15" width="2.2" height="3.3" fill="#000"/>
<rect x="361.90" y="297.15" width="2.2" height="3.3" fill="#000"/>
<rect x="370.10" y="297.15" width="2.2" height="3.3" fill="#000"/>
<rect x="379.10" y="297.15" width="2.2" height="3.3" fill="#000"/>
<rect x="383.90" y="297.15" width="2.2" height="3.3" fill="#000"/>
<rect x="390.20" y="297.15" width="2.2" height="3.3" fill="#000"/>
<rect x="401.40" y="315.45" width="2.2" height="3.3" fill="#000"/>
<rect x="403.40" y="315.45" width="2.2" height="3.3" fill="#000"/>
<rect x="405.40" y="315.45" width="2.2" height="3.3" fill="#000"/>
<rect x="408.80" y="315.45" width="2.2" height="3.3" fill="#000"/>
<rect x="417.50" y="315.45" width="2.2" height="3.3" fill="#000"/>
<rect x="453.30" y="315.45" width="2.2" height="3.3" fill="#000"/>
<rect x="55.90" y="583.95" width="2.2" height="3.3" fill="#000"/>
<rect x="60.40" y="583.95" width="2.2" height="3.3" fill="#000"/>
<rect x="77.40" y="583.95" width="2.2" height="3.3" fill="#000"/>
<rect x="84.40" y="583.95" width="2.2" height="3.3" fill="#000"/>
<rect x="88.10" y="583.95" width="2.2" height="3.3" fill="#000"/>
<rect x="115.90" y="583.95" width="2.2" height="3.3" fill="#000"/>
<rect x="136.70" y="583.95" width="2.2" height="3.3" fill="#000"/>
<rect x="144.40" y="602.15" width="2.2" height="3.3" fill="#000"/>
<rect x="145.90" y="602.15" width="2.2" height="3.3" fill="#000"/>
<rect x="197.20" y="602.15" width="2.2" height="3.3" fill="#000"/>
<rect x="43.50" y="517.85" width="2.2" height="3.3" fill="#000"/>
<rect x="44.40" y="534.35" width="2.2" height="3.3" fill="#000"/>
<rect x="45.40" y="539.85" width="2.2" height="3.3" fill="#000"/>
<rect x="46.40" y="545.35" width="2.2" height="3.3" fill="#000"/>
<rect x="47.40" y="550.85" width="2.2" height="3.3" fill="#000"/>
<rect x="48.40" y="561.85" width="2.2" height="3.3" fill="#000"/>
<rect x="51.40" y="574.85" width="2.2" height="3.3" fill="#000"/>
<rect x="47.40" y="512.45" width="2.2" height="3.3" fill="#000"/>
<rect x="56.90" y="549.55" width="2.2" height="3.3" fill="#000"/>
<rect x="77.90" y="557.65" width="2.2" height="3.3" fill="#000"/>
<rect x="83.90" y="557.65" width="2.2" height="3.3" fill="#000"/>
<rect x="102.20" y="557.65" width="2.2" height="3.3" fill="#000"/>
<rect x="109.10" y="557.65" width="2.2" height="3.3" fill="#000"/>
<rect x="121.20" y="557.65" width="2.2" height="3.3" fill="#000"/>
<rect x="147.20" y="557.65" width="2.2" height="3.3" fill="#000"/>
<rect x="149.60" y="557.65" width="2.2" height="3.3" fill="#000"/>
<rect x="226.60" y="557.65" width="2.2" height="3.3" fill="#000"/>
<rect x="296.90" y="517.25" width="2.2" height="3.3" fill="#000"/>
<rect x="297.90" y="517.25" width="2.2" height="3.3" fill="#000"/>
<rect x="299.40" y="527.15" width="2.2" height="3.3" fill="#000"/>
<rect x="305.50" y="527.15" width="2.2" height="3.3" fill="#000"/>
<rect x="306.90" y="531.75" width="2.2" height="3.3" fill="#000"/>
<rect x="314.70" y="537.95" width="2.2" height="3.3" fill="#000"/>
<rect x="326.90" y="543.35" width="2.2" height="3.3" fill="#000"/>
<rect x="331.20" y="543.35" width="2.2" height="3.3" fill="#000"/>
<rect x="338.60" y="543.35" width="2.2" height="3.3" fill="#000"/>
<rect x="340.90" y="549.55" width="2.2" height="3.3" fill="#000"/>
<rect x="342.50" y="549.55" width="2.2" height="3.3" fill="#000"/>
<rect x="348.60" y="557.15" width="2.2" height="3.3" fill="#000"/>
<rect x="353.20" y="557.15" width="2.2" height="3.3" fill="#000"/>
<rect x="360.10" y="557.15" width="2.2" height="3.3" fill="#000"/>
<rect x="369.10" y="557.15" width="2.2" height="3.3" fill="#000"/>
<rect x="371.40" y="569.25" width="2.2" height="3.3" fill="#000"/>
<rect x="372.90" y="569.25" width="2.2" height="3.3" fill="#000"/>
<rect x="390.70" y="569.25" width="2.2" height="3.3" fill="#000"/>
<rect x="398.40" y="586.75" width="2.2" height="3.3" fill="#000"/>
<rect x="399.90" y="586.75" width="2.2" height="3.3" fill="#000"/>
<rect x="450.40" y="586.75" width="2.2" height="3.3" fill="#000"/>
<rect x="458.30" y="586.75" width="2.2" height="3.3" fill="#000"/>
<rect x="300.90" y="512.95" width="2.2" height="3.3" fill="#000"/>
<rect x="309.90" y="519.25" width="2.2" height="3.3" fill="#000"/>
<rect x="311.90" y="519.25" width="2.2" height="3.3" fill="#000"/>
<rect x="331.70" y="539.25" width="2.2" height="3.3" fill="#000"/>
<rect x="337.10" y="539.25" width="2.2" height="3.3" fill="#000"/>
<rect x="357.10" y="539.25" width="2.2" height="3.3" fill="#000"/>
<rect x="364.70" y="539.25" width="2.2" height="3.3" fill="#000"/>
<rect x="375.60" y="539.25" width="2.2" height="3.3" fill="#000"/>
<rect x="379.90" y="539.25" width="2.2" height="3.3" fill="#000"/>
<rect x="383.70" y="539.25" width="2.2" height="3.3" fill="#000"/>
<rect x="398.70" y="539.25" width="2.2" height="3.3" fill="#000"/>
<rect x="403.30" y="539.25" width="2.2" height="3.3" fill="#000"/>
<rect x="422.20" y="539.25" width="2.2" height="3.3" fill="#000"/>
<rect x="453.10" y="539.25" width="2.2" height="3.3" fill="#000"/>
<rect x="480.40" y="539.25" width="2.2" height="3.3" fill="#000"/>
<rect x="294.0" y="649.2" width="1.8" height="1.3" fill="#9a9a9a"/>
<rect x="343.6" y="649.2" width="2.6" height="1.3" fill="#9a9a9a"/>
<rect x="348.2" y="649.2" width="2.0" height="1.3" fill="#9a9a9a"/>
</svg>
</body></html>
